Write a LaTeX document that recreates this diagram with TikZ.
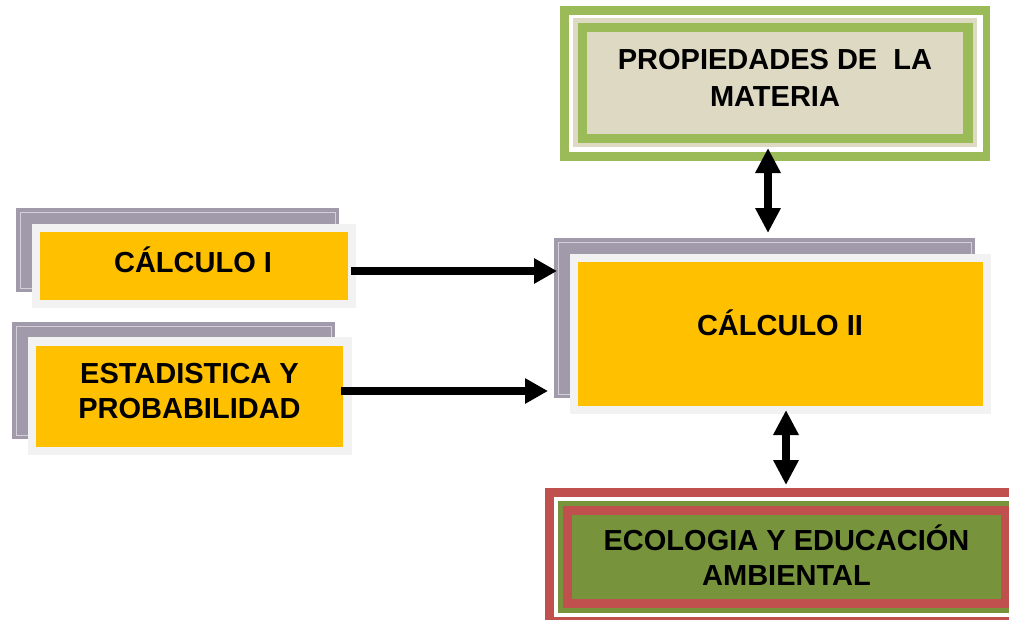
\documentclass[tikz,border=0pt]{standalone}
\usepackage{fontspec}
\setmainfont{Liberation Sans}
\usetikzlibrary{arrows.meta,calc,fit}
\definecolor{orng}{HTML}{FFC000}
\definecolor{greyback}{HTML}{A09AAA}
\definecolor{greyline}{HTML}{D4D0DA}
\definecolor{framec}{HTML}{F2F2F2}
\definecolor{beige}{HTML}{DDD9C3}
\definecolor{lgreen}{HTML}{9BBB59}
\definecolor{olive}{HTML}{77933C}
\definecolor{brick}{HTML}{C0504D}
\begin{document}
\begin{tikzpicture}[x=1pt,y=-1pt,
  box/.style={draw=none, inner sep=0pt, outer sep=0pt, rectangle},
  txt/.style={font=\fontsize{29}{34.5}\selectfont\bfseries, align=center, inner sep=0pt},
  arr/.style={line width=7.5pt, -{Triangle[length=23pt,width=24pt]}},
  darr/.style={line width=7.5pt, {Triangle[length=25pt,width=24pt]}-{Triangle[length=25pt,width=24pt]}},
  gline/.style={draw=greyline, line width=0.8pt}]
\clip (0,0) rectangle (1009,619);
\fill[white] (0,0) rectangle (1009,619);

% Propiedades de la materia
\node[box, fill=lgreen, fit={(560,6) (990,161)}] (propout) {};
\node[box, fill=white, fit={(569,15) (983,152)}] (propw) {};
\node[box, fill=beige, fit={(573,18) (977,147)}] (propb) {};
\node[box, fill=lgreen, fit={(578,23) (973,143)}] (propg) {};
\node[box, fill=beige, fit={(587,32) (963,134)}] (prop) {};
\node[txt, anchor=base] (propt) at (775,106) {PROPIEDADES DE\ \ LA\\[2.5pt]MATERIA};

% Calculo I
\node[box, fill=greyback, fit={(16,208) (339,292)}] (c1back) {};
\draw[gline] ($(c1back.north west)+(4,4)$) rectangle ($(c1back.south east)+(-4,-4)$);
\node[box, fill=framec, fit={(32,224) (356,308)}] (c1f) {};
\node[box, fill=orng, fit={(40,232) (348,300)}] (c1) {};
\node[txt, anchor=base] (c1t) at (193,272) {CÁLCULO I};

% Estadistica y probabilidad
\node[box, fill=greyback, fit={(12,322) (335,439)}] (esback) {};
\draw[gline] ($(esback.north west)+(4,4)$) rectangle ($(esback.south east)+(-4,-4)$);
\node[box, fill=framec, fit={(28,337) (352,455)}] (esf) {};
\node[box, fill=orng, fit={(36,346) (343,447)}] (es) {};
\node[txt, anchor=base] (est) at (189.5,418) {ESTADISTICA Y\\PROBABILIDAD};

% Calculo II
\node[box, fill=greyback, fit={(554,238) (975,398)}] (c2back) {};
\draw[gline] ($(c2back.north west)+(4,4)$) rectangle ($(c2back.south east)+(-4,-4)$);
\node[box, fill=framec, fit={(570,254) (991,414)}] (c2f) {};
\node[box, fill=orng, fit={(578,262) (983,406)}] (c2) {};
\node[txt, anchor=base] (c2t) at (780,335) {CÁLCULO II};

% Ecologia y educacion ambiental
\node[box, fill=brick, fit={(545,488) (1028,626)}] (ecoout) {};
\node[box, fill=white, fit={(554,497) (1019,617)}] (ecow) {};
\node[box, fill=olive, fit={(558,501) (1015,613)}] (ecog) {};
\node[box, fill=brick, fit={(563,506) (1010,608)}] (ecor) {};
\node[box, fill=olive, fit={(572,515) (1001,599)}] (eco) {};
\node[txt, anchor=base] (ecot) at (786.5,585) {ECOLOGIA Y EDUCACIÓN\\AMBIENTAL};

% connectors
\draw[arr] ($(c1.east)+(3,5)$) -- ($(c1.east -| c2back.west)+(3,5)$);
\draw[arr] ($(es.east)+(-2,-5.5)$) -- ($(es.east -| c2back.west)+(-6,-5.5)$);
\draw[darr] ($(prop.south)+(-7,14)$) -- ($(prop.south |- c2back.north)+(-7,-5)$);
\draw[darr] ($(c2.south)+(5.5,4)$) -- ($(c2.south |- ecoout.north)+(5.5,-3)$);
\end{tikzpicture}
\end{document}
